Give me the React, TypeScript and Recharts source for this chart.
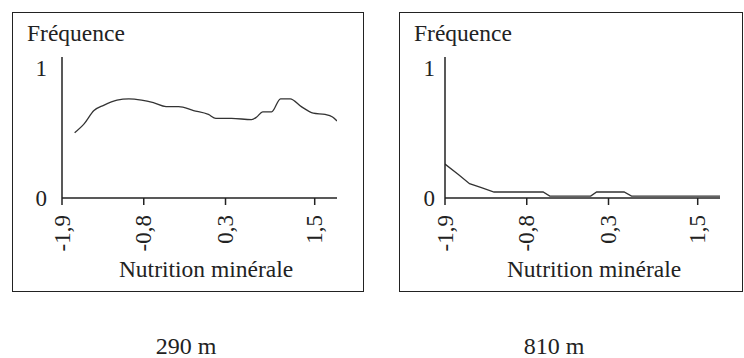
import { LineChart, Line, XAxis, YAxis } from "recharts";

const FONT = '"Liberation Serif", "Times New Roman", serif';
const INK = "#222";

const X_TICKS = [-1.9, -0.8, 0.3, 1.5];
const Y_TICKS = [0, 1];

// 290 m
const xLow = [-1.73, -1.6, -1.47, -1.34, -1.16, -1.0, -0.83, -0.67, -0.5, -0.33, -0.13, 0.07, 0.17, 0.38, 0.65, 0.72, 0.8, 0.92, 1.04, 1.17, 1.32, 1.48, 1.64, 1.74, 1.8];
const yLow = [0.5, 0.57, 0.67, 0.71, 0.75, 0.76, 0.75, 0.73, 0.7, 0.7, 0.67, 0.64, 0.61, 0.61, 0.6, 0.62, 0.66, 0.66, 0.76, 0.76, 0.7, 0.65, 0.64, 0.62, 0.59];

// 810 m
const xHigh = [-1.9, -1.72, -1.57, -1.41, -1.24, -0.58, -0.49, 0.06, 0.14, 0.51, 0.61, 1.8];
const yHigh = [0.26, 0.18, 0.11, 0.08, 0.046, 0.046, 0.015, 0.015, 0.046, 0.046, 0.015, 0.015];

const CAPTIONS = ["290 m", "810 m"];

const toRows = (xs: number[], ys: number[]) => xs.map((x, i) => ({ x, y: ys[i] }));

const RotatedTick = (props: any) => {
  const { x, y, payload } = props;
  return (
    <text
      x={x}
      y={y}
      transform={`rotate(-90 ${x} ${y})`}
      textAnchor="end"
      dominantBaseline="central"
      fontSize={23}
      fontFamily={FONT}
      fill={INK}
    >
      {String(payload.value).replace(".", ",")}
    </text>
  );
};

interface PanelProps {
  left: number;
  data: { x: number; y: number }[];
  marginLeft: number;
  marginRight: number;
  yGap: number;
  curve: "monotone" | "linear";
}

function Panel({ left, data, marginLeft, marginRight, yGap, curve }: PanelProps) {
  return (
    <LineChart
      width={372}
      height={300}
      data={data}
      margin={{ top: 57, right: marginRight, bottom: 12, left: marginLeft }}
      style={{ position: "absolute", left, top: 0 }}
    >
      <XAxis
        dataKey="x"
        type="number"
        domain={[-1.9, 1.8]}
        ticks={X_TICKS}
        interval={0}
        allowDataOverflow
        height={90}
        tickSize={7}
        tickMargin={10}
        tick={<RotatedTick />}
        axisLine={{ stroke: INK, strokeWidth: 1.5 }}
        tickLine={{ stroke: INK, strokeWidth: 1.5 }}
      />
      <YAxis
        type="number"
        domain={[0, 1.08]}
        ticks={Y_TICKS}
        width={30}
        tickLine={false}
        tickSize={0}
        tickMargin={yGap}
        tick={{ fontSize: 23, fontFamily: FONT, fill: INK }}
        axisLine={{ stroke: INK, strokeWidth: 1.5 }}
      />
      <Line
        type={curve}
        dataKey="y"
        stroke="#333"
        strokeWidth={1.3}
        dot={false}
        isAnimationActive={false}
      />
    </LineChart>
  );
}

const textStyle = (left: number, top: number, size: number, lh: number, extra: any = {}) => ({
  position: "absolute" as const,
  left,
  top,
  fontSize: size,
  lineHeight: `${lh}px`,
  fontFamily: FONT,
  color: INK,
  whiteSpace: "nowrap" as const,
  ...extra,
});

const boxStyle = (left: number, width: number) => ({
  position: "absolute" as const,
  left,
  top: 12,
  width,
  height: 280,
  border: `1.5px solid ${INK}`,
  boxSizing: "border-box" as const,
});

export default function App() {
  return (
    <div
      style={{
        position: "absolute",
        left: 0,
        top: 0,
        width: 744,
        height: 358,
        background: "#fff",
        overflow: "hidden",
      }}
    >
      <div style={boxStyle(12, 352)} />
      <div style={boxStyle(399, 344)} />

      <Panel left={0} data={toRows(xLow, yLow)} marginLeft={32} marginRight={35} yGap={15} curve="monotone" />
      <Panel left={372} data={toRows(xHigh, yHigh)} marginLeft={43} marginRight={24} yGap={10} curve="linear" />

      <div style={textStyle(27, 22, 23.5, 23.5)}>Fréquence</div>
      <div style={textStyle(414, 22, 23.5, 23.5)}>Fréquence</div>

      <div style={textStyle(56, 258, 23.5, 23.5, { width: 300, textAlign: "center" })}>Nutrition minérale</div>
      <div style={textStyle(444, 258, 23.5, 23.5, { width: 300, textAlign: "center" })}>Nutrition minérale</div>

      <div style={textStyle(86, 336, 24, 20, { width: 200, textAlign: "center" })}>{CAPTIONS[0]}</div>
      <div style={textStyle(454, 336, 24, 20, { width: 200, textAlign: "center" })}>{CAPTIONS[1]}</div>
    </div>
  );
}
